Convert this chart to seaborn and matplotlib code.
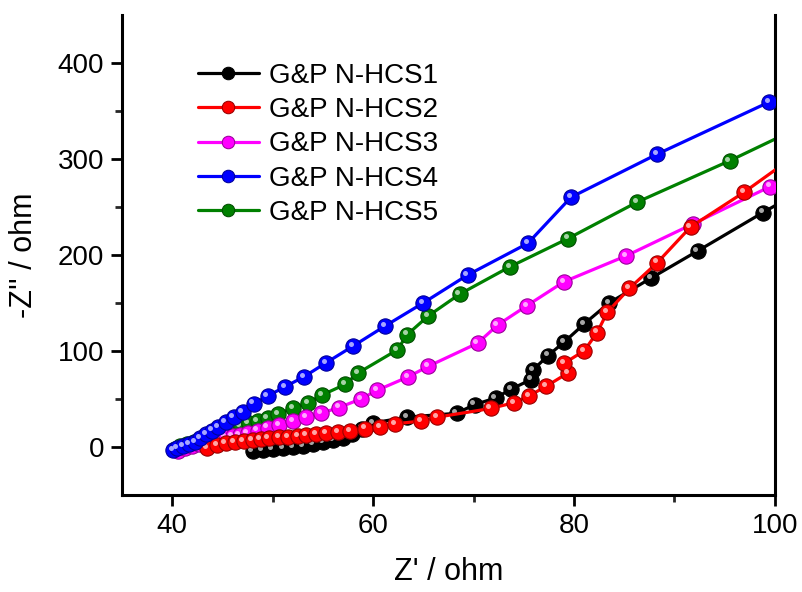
import numpy as np
import pandas as pd
import matplotlib
matplotlib.use("Agg")
import matplotlib.pyplot as plt
import matplotlib.transforms as mtransforms
from matplotlib.colors import to_rgb
import seaborn as sns

# ---------------- data ----------------
labels = ["G&P N-HCS1", "G&P N-HCS2", "G&P N-HCS3", "G&P N-HCS4", "G&P N-HCS5"]
colors = ["#000000", "#FF0000", "#FF00FF", "#0000FF", "#008000"]

hcs1_x = [48.0, 49.0, 50.0, 51.0, 52.0, 53.0, 54.0, 55.0, 56.0, 57.0, 57.9, 58.9, 60.0,
          63.4, 68.3, 70.1, 72.2, 73.7, 75.7, 75.9, 77.4, 79.0, 81.0, 83.5, 87.7, 92.3,
          98.8, 102.5]
hcs1_y = [-4, -3, -2, -1, 0, 1, 3, 5, 7, 9, 13.5, 19, 25,
          31, 35, 44, 51, 60, 70, 80, 95, 109, 128, 150, 176, 204,
          244, 266]

hcs2_x = [43.5, 44.5, 45.3, 46.2, 47.1, 48.0, 48.8, 49.6, 50.6, 51.5, 52.5, 53.3, 54.3,
          55.3, 56.5, 57.7, 59.2, 60.7, 62.2, 64.8, 66.4, 71.7, 74.0, 75.5, 77.2, 79.4,
          79.0, 81.0, 82.3, 83.3, 85.5, 88.3, 91.6, 96.9, 102.5]
hcs2_y = [-1, 2, 4, 5, 6, 7, 8, 9, 10, 10.5, 11.5, 12.5, 13.5,
          14.5, 15.5, 16.5, 19, 21, 24, 27, 31, 40, 46, 53, 63, 77,
          87, 100, 119, 140, 165, 192, 229, 265, 307]

hcs3_x = [40.6, 41.3, 42.0, 42.7, 43.3, 43.9, 44.6, 45.3, 46.0, 46.7, 47.5, 48.5, 49.5,
          50.6, 52.0, 53.3, 54.8, 56.6, 58.8, 60.4, 63.5, 65.5, 70.4, 72.4, 75.3, 79.0,
          85.2, 91.8, 99.5]
hcs3_y = [-4, -1, 1, 3, 5, 7, 8, 10, 11.5, 12.5, 14.5, 17, 20,
          23, 27, 31, 35, 41, 50, 59, 73, 84, 108, 127, 147, 172,
          199, 232, 271]

hcs4_x = [40.1, 40.5, 41.1, 41.7, 42.3, 42.8, 43.4, 44.0, 44.6, 45.3, 46.1, 47.0, 48.1,
          49.5, 51.2, 53.1, 55.3, 58.0, 61.2, 65.0, 69.4, 75.4, 79.7, 88.3, 99.4]
hcs4_y = [-3, -1, 1, 3, 5, 9, 13.5, 17, 21, 26, 31, 36.5, 45,
          53, 62.5, 73, 87.5, 105, 126, 150, 179, 212, 260, 305, 359]

hcs5_x = [40.3, 40.8, 41.5, 42.2, 42.9, 43.6, 44.4, 45.3, 46.0, 46.8, 47.6, 48.5, 49.5,
          50.5, 52.0, 53.5, 54.9, 57.2, 58.5, 62.4, 63.4, 65.5, 68.6, 73.6, 79.4, 86.3,
          95.5, 102.5]
hcs5_y = [-2, 0.5, 3, 5.5, 8, 10.5, 13, 15.5, 19, 22, 25, 27, 30,
          34, 40.5, 46, 54, 65, 77, 101, 117, 136.5, 159, 187.5, 217, 255,
          298, 333]

series_x = [hcs1_x, hcs2_x, hcs3_x, hcs4_x, hcs5_x]
series_y = [hcs1_y, hcs2_y, hcs3_y, hcs4_y, hcs5_y]

frames = []
for lab, xs, ys in zip(labels, series_x, series_y):
    frames.append(pd.DataFrame({"x": xs, "y": ys, "sample": lab}))
df = pd.concat(frames, ignore_index=True)

# ---------------- style ----------------
sns.set_style("ticks")
plt.rcParams["font.family"] = ["Liberation Sans", "DejaVu Sans"]
plt.rcParams["text.color"] = "black"
plt.rcParams["axes.labelcolor"] = "black"

fig = plt.figure(figsize=(8.03, 5.92), dpi=100)
ax = fig.add_axes([0.152, 0.164, 0.813, 0.811])

palette = dict(zip(labels, colors))
sns.lineplot(data=df, x="x", y="y", hue="sample", hue_order=labels, palette=palette,
             sort=False, estimator=None, marker="o", markersize=11,
             linewidth=2.3, ax=ax, legend=True)

def darker(c, f=0.6):
    r, g, b = to_rgb(c)
    return (r * f, g * f, b * f)

def lighter(c, f=0.65):
    r, g, b = to_rgb(c)
    return (r + (1 - r) * f, g + (1 - g) * f, b + (1 - b) * f)

zorders = {labels[0]: 3, labels[1]: 5, labels[2]: 4, labels[3]: 6, labels[4]: 2}
data_lines = list(ax.lines)[:5]
for lab, line in zip(labels, data_lines):
    line.set_markeredgecolor(darker(palette[lab]))
    line.set_markeredgewidth(0.8)
    line.set_zorder(zorders[lab])

# specular highlight on each ball
hl_trans = mtransforms.offset_copy(ax.transData, fig=fig, x=-1.6, y=1.6, units="points")
for lab, xs, ys in zip(labels, series_x, series_y):
    ax.plot(xs, ys, linestyle="none", marker="o", markersize=3.6,
            color=lighter(palette[lab]), markeredgewidth=0,
            transform=hl_trans, zorder=zorders[lab] + 0.5)

ax.set_xlim(35, 100)
ax.set_ylim(-50, 450)
ax.set_xticks([40, 60, 80, 100])
ax.set_xticks([50, 70, 90], minor=True)
ax.set_yticks([0, 100, 200, 300, 400])
ax.set_yticks([50, 150, 250, 350], minor=True)

for side in ["left", "bottom", "right"]:
    ax.spines[side].set_visible(True)
    ax.spines[side].set_linewidth(2.2)
    ax.spines[side].set_color("black")
ax.spines["top"].set_visible(False)

ax.tick_params(axis="both", which="major", direction="out", length=8, width=2,
               labelsize=20, colors="black", pad=5)
ax.tick_params(axis="both", which="minor", direction="out", length=5, width=2)
ax.tick_params(axis="y", which="both", right=False)

ax.set_xlabel("Z' / ohm", fontsize=22, labelpad=13, color="black")
ax.set_ylabel("-Z'' / ohm", fontsize=22, labelpad=13, color="black")

leg = ax.legend(loc="upper left", bbox_to_anchor=(0.116, 0.90), frameon=False,
                fontsize=20, handlelength=2.2, handletextpad=0.36, labelspacing=0.30,
                borderpad=0, borderaxespad=0, labelcolor="black")
for h, lab in zip(leg.legend_handles, labels):
    h.set_linewidth(2.3)
    h.set_markersize(9)
    h.set_markeredgecolor(darker(palette[lab]))

fig.patch.set_facecolor("white")
ax.set_facecolor("white")
fig.savefig("out.png", dpi=100, facecolor="white")
